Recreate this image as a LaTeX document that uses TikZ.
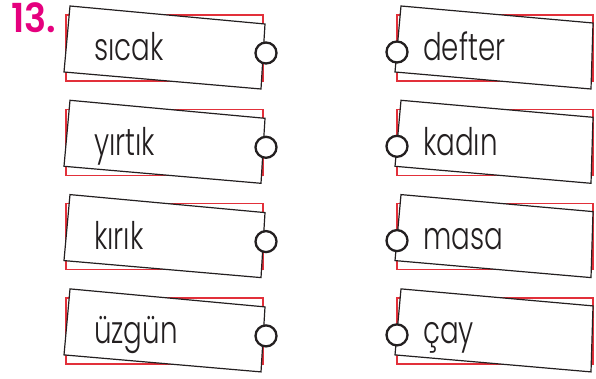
\documentclass[tikz,border=0pt]{standalone}
\usepackage{fontspec}
\setmainfont{Poppins}[UprightFont=* Light, BoldFont=* SemiBold]
\definecolor{tagred}{HTML}{E2303A}
\definecolor{numpink}{HTML}{E5007E}
\definecolor{ink}{HTML}{231F20}
\newcommand{\tagword}[1]{\scalebox{0.73}[1]{#1}}
\begin{document}
\begin{tikzpicture}[x=1pt,y=-1pt,
  redbox/.style={draw=tagred,line width=1.2pt},
  card/.style={draw=ink,fill=white,line width=1.2pt},
  hole/.style={circle,draw=ink,fill=white,line width=2.3pt,minimum size=21pt,inner sep=0pt},
  word/.style={anchor=base west,inner sep=0pt,font=\fontsize{38}{42}\selectfont,text=ink}]
\useasboundingbox (0,0) rectangle (596,379);
\node[anchor=north west, text=numpink, font=\bfseries\fontsize{40}{44}\selectfont, inner sep=0pt] (num) at (11,2) {\scalebox{0.92}[1]{13.}};
\foreach \w [count=\i from 0] in {sıcak,yırtık,kırık,üzgün} {
  \begin{scope}[yshift={-\i*94.3pt}]
    \draw[redbox] (66,15) rectangle (263,81);
    \draw[card] (70,6) -- (265,24) -- (261,89) -- (64,72) -- cycle;
    \node[word] (lw\i) at (94,61) {\tagword{\w}};
    \node[hole] (lh\i) at (266,53) {};
  \end{scope}
}
\foreach \w [count=\i from 0] in {defter,kadın,masa,çay} {
  \begin{scope}[yshift={-\i*94.3pt}]
    \draw[redbox] (397,15) rectangle (593,81);
    \draw[card] (401,6) -- (593,23) -- (591,89) -- (395,72) -- cycle;
    \node[word] (rw\i) at (423,61) {\tagword{\w}};
    \node[hole] (rh\i) at (397,52) {};
  \end{scope}
}
\end{tikzpicture}
\end{document}
